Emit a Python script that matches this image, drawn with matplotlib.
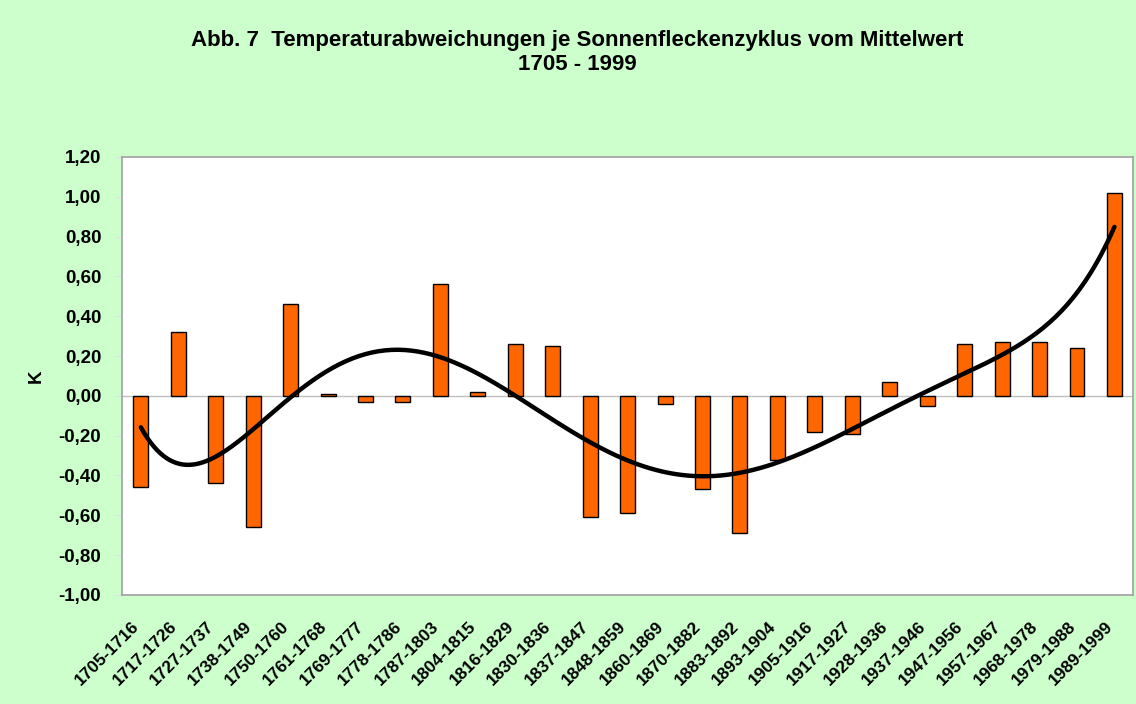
import matplotlib.pyplot as plt
import matplotlib.transforms as mtransforms
import numpy as np

plt.rcParams['font.family'] = ['Liberation Sans', 'DejaVu Sans']

# Sonnenfleckenzyklen und Temperaturabweichungen (K)
cycles = ["1705-1716", "1717-1726", "1727-1737", "1738-1749", "1750-1760",
          "1761-1768", "1769-1777", "1778-1786", "1787-1803", "1804-1815",
          "1816-1829", "1830-1836", "1837-1847", "1848-1859", "1860-1869",
          "1870-1882", "1883-1892", "1893-1904", "1905-1916", "1917-1927",
          "1928-1936", "1937-1946", "1947-1956", "1957-1967", "1968-1978",
          "1979-1988", "1989-1999"]
deviation = [-0.46, 0.32, -0.44, -0.66, 0.46,
             0.01, -0.03, -0.03, 0.56, 0.02,
             0.26, 0.25, -0.61, -0.59, -0.04,
             -0.47, -0.69, -0.32, -0.18, -0.19,
             0.07, -0.05, 0.26, 0.27, 0.27,
             0.24, 1.02]
y_ticks = [-1.0, -0.8, -0.6, -0.4, -0.2, 0.0, 0.2, 0.4, 0.6, 0.8, 1.0, 1.2]

x = np.arange(1, len(cycles) + 1)

# polynomial trend line (6th order, like the Excel trend)
coef = np.polyfit(x, deviation, 6)
x_fine = np.linspace(1, len(cycles), 300)
trend = np.polyval(coef, x_fine)

fig = plt.figure(figsize=(11.36, 7.04), dpi=100)
fig.patch.set_facecolor('#CCFFCC')
ax = fig.add_axes([0.1075, 0.155, 0.89, 0.622])
ax.set_facecolor('white')

ax.bar(x, deviation, width=0.4, color='#FF6600', edgecolor='black',
       linewidth=1.0, zorder=3)
ax.axhline(0, color='#C0C0C0', linewidth=1.0, zorder=2)
ax.plot(x_fine, trend, color='black', linewidth=3.2, zorder=4,
        solid_capstyle='round')

ax.set_xlim(0.5, len(cycles) + 0.5)
ax.set_ylim(-1.0, 1.2)
ax.set_yticks(y_ticks)
ax.set_yticklabels([f"{v:.2f}".replace('.', ',') for v in y_ticks],
                   fontsize=13.5, fontweight='bold')
ax.set_xticks(x)
ax.set_xticklabels(cycles, rotation=45, ha='right', va='center',
                   rotation_mode='anchor', fontsize=12.5, fontweight='bold')
ax.tick_params(axis='x', length=0, pad=21)
ax.tick_params(axis='y', length=5, color='#E0E0E0', pad=10)

shift = mtransforms.ScaledTranslation(-0.04, 0, fig.dpi_scale_trans)
for lbl in ax.get_xticklabels():
    lbl.set_transform(lbl.get_transform() + shift)

for s in ax.spines.values():
    s.set_color('#A0A0A0')
    s.set_linewidth(1.2)

ax.set_ylabel('K', fontsize=13.5, fontweight='bold', labelpad=10)

fig.text(0.508, 0.942, 'Abb. 7  Temperaturabweichungen je Sonnenfleckenzyklus vom Mittelwert',
         ha='center', va='center', fontsize=16, fontweight='bold')
fig.text(0.508, 0.909, '1705 - 1999', ha='center', va='center',
         fontsize=16, fontweight='bold')

fig.savefig('out.png', dpi=100, facecolor=fig.get_facecolor())
